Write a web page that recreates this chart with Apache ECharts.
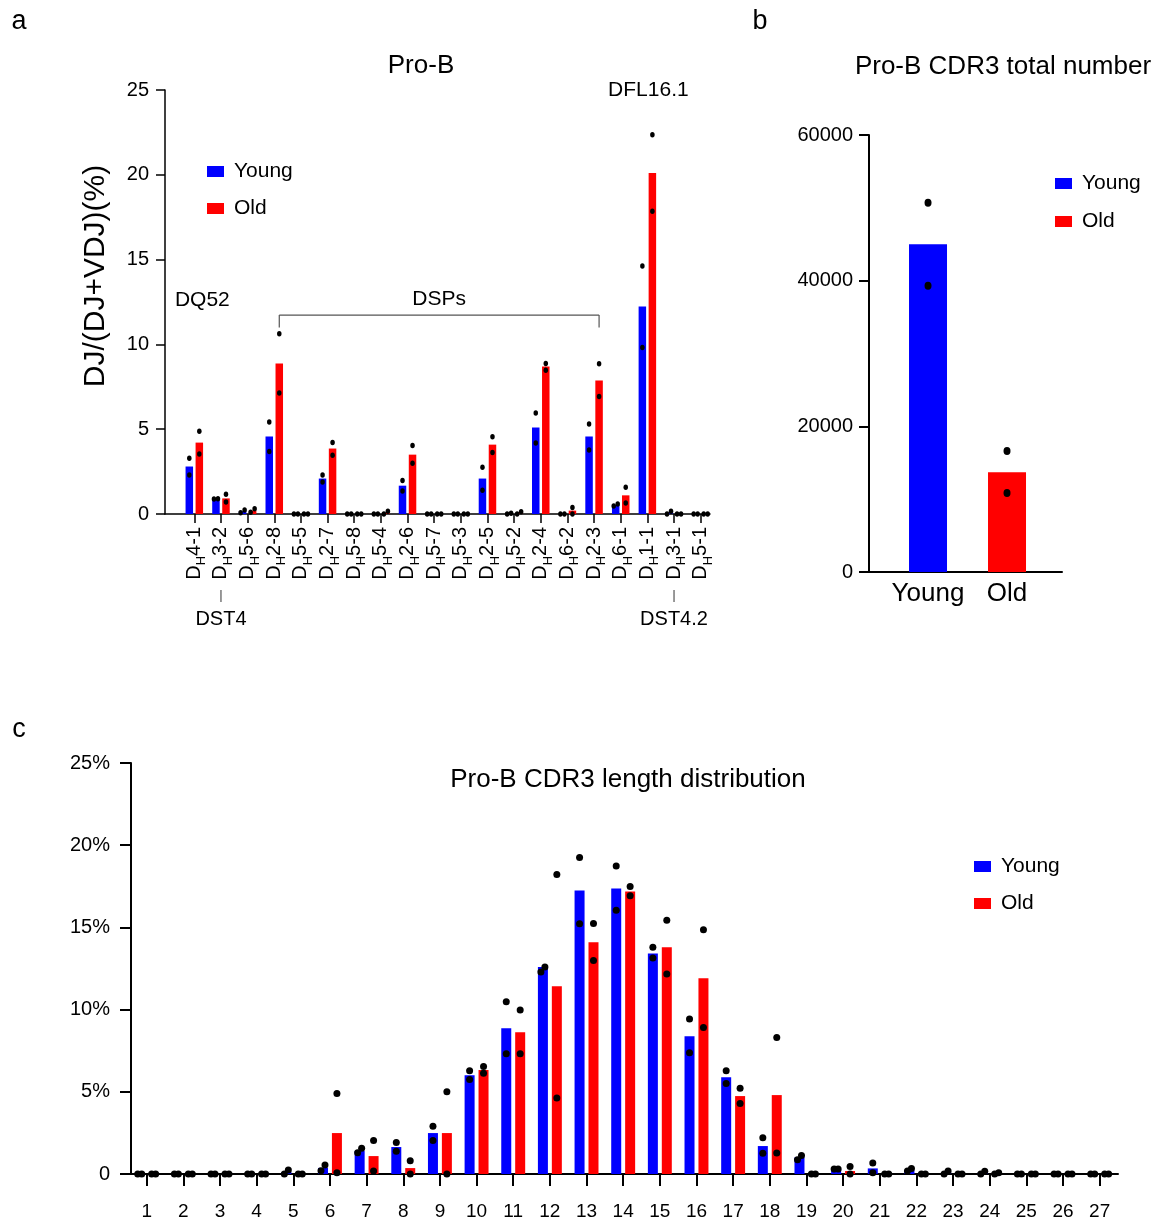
<!DOCTYPE html>
<html><head><meta charset="utf-8">
<script src="https://cdn.jsdelivr.net/npm/echarts@6/dist/echarts.min.js"></script>
<style>html,body{margin:0;padding:0;background:#fff}#c{width:1159px;height:1222px}</style>
</head><body><div id="c"></div>
<script>
// ---------- Panel a data ----------
const dGenes = ['4-1','3-2','5-6','2-8','5-5','2-7','5-8','5-4','2-6','5-7','5-3','2-5','5-2','2-4','6-2','2-3','6-1','1-1','3-1','5-1'];
const aYoungMean = [2.8,0.9,0.16,4.57,0,2.09,0,0,1.67,0,0,2.09,0.03,5.10,0,4.57,0.53,12.24,0.08,0];
const aYoungRep1 = [3.29,0.88,0.08,5.43,0,2.30,0,0,1.97,0,0,2.76,0,5.96,0,5.31,0.47,14.63,0,0];
const aYoungRep2 = [2.30,0.90,0.24,3.68,0,1.89,0,0,1.36,0,0,1.40,0.05,4.19,0,3.78,0.59,9.82,0.16,0];
const aOldMean = [4.21,0.92,0.2,8.88,0,3.86,0,0.08,3.5,0,0,4.09,0.07,8.70,0.2,7.87,1.1,20.1,0,0];
const aOldRep1 = [4.88,1.16,0.10,10.63,0,4.21,0,0,4.04,0,0,4.55,0,8.88,0.39,8.86,1.57,22.36,0,0];
const aOldRep2 = [3.54,0.71,0.31,7.13,0,3.46,0,0.16,2.99,0,0,3.62,0.14,8.48,0,6.93,0.65,17.85,0,0];

// ---------- Panel b data ----------
const bGroups = ['Young','Old'];
const bMean = [45000, 13700];
const bRep1 = [50700, 16600];
const bRep2 = [39300, 10850];

// ---------- Panel c data ----------
const cLengths = [1,2,3,4,5,6,7,8,9,10,11,12,13,14,15,16,17,18,19,20,21,22,23,24,25,26,27];
const cYoungMean = [0,0,0,0,0.12,0.37,1.40,1.64,2.49,6.01,8.87,12.59,17.25,17.37,13.42,8.38,5.89,1.70,1.01,0.30,0.34,0.22,0.09,0.08,0,0,0];
const cYoungRep1 = [0,0,0,0,0,0.20,1.30,1.92,2.91,6.28,10.47,12.29,19.25,18.74,13.79,9.43,6.28,2.21,0.87,0.30,0.67,0.18,0,0,0,0,0];
const cYoungRep2 = [0,0,0,0,0.24,0.55,1.56,1.38,2.04,5.75,7.31,12.59,15.22,16.05,13.14,7.37,5.51,1.26,1.13,0.30,0.08,0.34,0.18,0.16,0,0,0];
const cOldMean = [0,0,0,0,0,2.49,1.09,0.36,2.49,6.32,8.62,11.42,14.09,17.19,13.79,11.90,4.74,4.80,0,0.18,0,0,0,0.04,0,0,0];
const cOldRep1 = [0,0,0,0,0,4.90,2.04,0.81,5.00,6.54,9.98,18.22,15.24,17.49,15.43,14.86,5.22,8.30,0,0.45,0,0,0,0,0,0,0];
const cOldRep2 = [0,0,0,0,0,0.08,0.18,0,0,6.13,7.31,4.62,12.98,16.92,12.17,8.91,4.29,1.28,0,0,0,0,0,0.08,0,0,0];

const FONT = '"Liberation Sans", Arial, Helvetica, sans-serif';
const BLUE = '#0000FF', RED = '#FF0000';

// grid geometry
const GA = {left:165, top:90, width:545, height:424};
const GB = {left:869, top:135, width:193, height:437};
const GC = {left:131, top:763, width:987, height:411};

function dots(xs, r1, r2, off, thr, jit) {
  const out = [];
  xs.forEach((x, i) => {
    const close = Math.abs(r1[i] - r2[i]) < thr;
    out.push({value:[x + off, r1[i]], symbolOffset:[close ? -jit : 0, 0]});
    out.push({value:[x + off, r2[i]], symbolOffset:[close ? jit : 0, 0]});
  });
  return out;
}
function bars(xs, vals, off) { return xs.map((x, i) => [x + off, vals[i]]); }

const aIdx = dGenes.map((_, i) => i);
const aOff = 0.188;
const cOff = 0.19;
const bIdx = [0, 1];

const axisLineA = {show:true, onZero:false, lineStyle:{color:'#000', width:1.5}};
const axisLineC = {show:true, onZero:false, lineStyle:{color:'#000', width:2}};
const lbl = (fs) => ({color:'#000', fontSize:fs, fontFamily:FONT});
const dotStyle = {color:'#000', opacity:1};
const legendText = {fontSize:21, color:'#000', fontFamily:FONT, lineHeight:20, padding:[0,0,0,5]};

const chart = echarts.init(document.getElementById('c'), null, {renderer:'canvas'});
const option = {
  animation:false,
  backgroundColor:'#fff',
  textStyle:{fontFamily:FONT, color:'#000'},
  grid:[
    Object.assign({containLabel:false}, GA),
    Object.assign({containLabel:false}, GB),
    Object.assign({containLabel:false}, GC)
  ],
  legend:[
    {left:207, top:161, padding:0, orient:'vertical', itemWidth:17, itemHeight:11, itemGap:16, icon:'rect', selectedMode:false,
     data:['Young','Old'], textStyle:legendText},
    {left:1055, top:173, padding:0, orient:'vertical', itemWidth:17, itemHeight:11, itemGap:17, icon:'rect', selectedMode:false,
     data:['Young','Old'], textStyle:legendText},
    {left:974, top:856, padding:0, orient:'vertical', itemWidth:17, itemHeight:11, itemGap:16, icon:'rect', selectedMode:false,
     data:['Young','Old'], textStyle:legendText}
  ],
  xAxis:[
    {gridIndex:0, type:'value', min:-1.1, max:19.35, axisLine:axisLineA, splitLine:{show:false},
     axisTick:{show:true, length:9, lineStyle:{color:'#000', width:1.5}, customValues:aIdx},
     axisLabel:{show:true, rotate:90, margin:13, customValues:aIdx,
       formatter:(v)=> '{d|D}{s|H}{d|' + dGenes[Math.round(v)] + '}',
       rich:{d:{fontSize:20, fontFamily:FONT, color:'#000', lineHeight:24},
             s:{fontSize:13, fontFamily:FONT, color:'#000', lineHeight:24, verticalAlign:'bottom', padding:[0,0,-2,0]}}}},
    {gridIndex:1, type:'value', min:-0.747, max:1.696, axisLine:axisLineC, splitLine:{show:false},
     axisTick:{show:false},
     axisLabel:Object.assign(lbl(26), {customValues:bIdx, margin:9, formatter:(v)=>bGroups[Math.round(v)]})},
    {gridIndex:2, type:'value', min:0.572, max:27.5, axisLine:axisLineC, splitLine:{show:false},
     axisTick:{show:true, length:12, lineStyle:{color:'#000', width:2}, customValues:cLengths},
     axisLabel:Object.assign(lbl(19), {customValues:cLengths, margin:28, formatter:(v)=>String(Math.round(v))})}
  ],
  yAxis:[
    {gridIndex:0, type:'value', min:0, max:25, interval:5, axisLine:axisLineA, splitLine:{show:false},
     axisTick:{show:true, length:9, lineStyle:{color:'#000', width:1.5}},
     axisLabel:Object.assign(lbl(20), {margin:16, formatter:(v)=>String(v)})},
    {gridIndex:1, type:'value', min:0, max:60000, interval:20000, axisLine:axisLineC, splitLine:{show:false},
     axisTick:{show:true, length:10, lineStyle:{color:'#000', width:2}},
     axisLabel:Object.assign(lbl(20), {margin:16, formatter:(v)=>String(v)})},
    {gridIndex:2, type:'value', min:0, max:25, interval:5, axisLine:axisLineC, splitLine:{show:false},
     axisTick:{show:true, length:11, lineStyle:{color:'#000', width:2}},
     axisLabel:Object.assign(lbl(20), {margin:21, formatter:(v)=> v===0 ? '0' : v + '%'})}
  ],
  series:[
    // panel a
    {name:'Young', type:'bar', xAxisIndex:0, yAxisIndex:0, barWidth:7.5, barGap:'-100%', itemStyle:{color:BLUE}, data:bars(aIdx, aYoungMean, -aOff)},
    {name:'Old', type:'bar', xAxisIndex:0, yAxisIndex:0, barWidth:7.5, barGap:'-100%', itemStyle:{color:RED}, data:bars(aIdx, aOldMean, aOff)},
    {name:'Young pts a', type:'scatter', xAxisIndex:0, yAxisIndex:0, symbol:'circle', symbolSize:[4.5,5.5], itemStyle:dotStyle, data:dots(aIdx, aYoungRep1, aYoungRep2, -aOff, 0.3, 2), z:5},
    {name:'Old pts a', type:'scatter', xAxisIndex:0, yAxisIndex:0, symbol:'circle', symbolSize:[4.5,5.5], itemStyle:dotStyle, data:dots(aIdx, aOldRep1, aOldRep2, aOff, 0.3, 2), z:5},
    // panel b
    {name:'Young', type:'bar', xAxisIndex:1, yAxisIndex:1, barWidth:38, barGap:'-100%', itemStyle:{color:BLUE}, data:[[bIdx[0], bMean[0]]]},
    {name:'Old', type:'bar', xAxisIndex:1, yAxisIndex:1, barWidth:38, barGap:'-100%', itemStyle:{color:RED}, data:[[bIdx[1], bMean[1]]]},
    {name:'pts b', type:'scatter', xAxisIndex:1, yAxisIndex:1, symbol:'circle', symbolSize:[7,8], itemStyle:dotStyle, data:dots(bIdx, bRep1, bRep2, 0, 500, 2), z:5},
    // panel c
    {name:'Young', type:'bar', xAxisIndex:2, yAxisIndex:2, barWidth:10, barGap:'-100%', itemStyle:{color:BLUE}, data:bars(cLengths, cYoungMean, -cOff)},
    {name:'Old', type:'bar', xAxisIndex:2, yAxisIndex:2, barWidth:10, barGap:'-100%', itemStyle:{color:RED}, data:bars(cLengths, cOldMean, cOff)},
    {name:'Young pts c', type:'scatter', xAxisIndex:2, yAxisIndex:2, symbol:'circle', symbolSize:7, itemStyle:dotStyle, data:dots(cLengths, cYoungRep1, cYoungRep2, -cOff, 0.4, 2), z:5},
    {name:'Old pts c', type:'scatter', xAxisIndex:2, yAxisIndex:2, symbol:'circle', symbolSize:7, itemStyle:dotStyle, data:dots(cLengths, cOldRep1, cOldRep2, cOff, 0.4, 2), z:5}
  ]
};
chart.setOption(option);

// ---------- annotations placed through the axes ----------
const px = (i) => chart.convertToPixel({xAxisIndex:0, yAxisIndex:0}, [i, 0])[0];
const py = (v) => chart.convertToPixel({xAxisIndex:0, yAxisIndex:0}, [0, v])[1];
const txt = (x, y, s, fs, extra) => Object.assign({type:'text', x:x, y:y,
  style:{text:s, fontSize:fs, fontFamily:FONT, fill:'#000', align:'center', verticalAlign:'middle'}}, extra||{});
const line = (x1, y1, x2, y2, color, w) => ({type:'line', shape:{x1:x1, y1:y1, x2:x2, y2:y2}, style:{stroke:color, lineWidth:w}});

const bx0 = px(3 + aOff), bx1 = px(15 + aOff), byTop = py(11.73), byLeg = py(11.0);
const dst4x = px(1), dst42x = px(18);
const graphic = [
  txt(19, 22, 'a', 27),
  txt(760, 22, 'b', 27),
  txt(19, 730, 'c', 27),
  txt(421, 66, 'Pro-B', 26),
  txt(1003, 67, 'Pro-B CDR3 total number', 26),
  txt(628, 780, 'Pro-B CDR3 length distribution', 26),
  txt(96, 276, 'DJ/(DJ+VDJ)(%)', 30, {rotation:Math.PI/2}),
  txt(px(0) + 8, py(12.62), 'DQ52', 21),
  txt((bx0 + bx1) / 2, py(12.68), 'DSPs', 21),
  txt(px(17) + 1, py(25.0), 'DFL16.1', 21),
  line(bx0, byLeg, bx0, byTop, '#555', 1.2),
  line(bx0, byTop, bx1, byTop, '#555', 1.2),
  line(bx1, byTop, bx1, byLeg, '#555', 1.2),
  line(dst4x, 590, dst4x, 602, '#555', 1.2),
  line(dst42x, 590, dst42x, 602, '#555', 1.2),
  txt(dst4x, 619, 'DST4', 20),
  txt(dst42x, 619, 'DST4.2', 20)
];
chart.setOption({graphic:graphic});
</script></body></html>
